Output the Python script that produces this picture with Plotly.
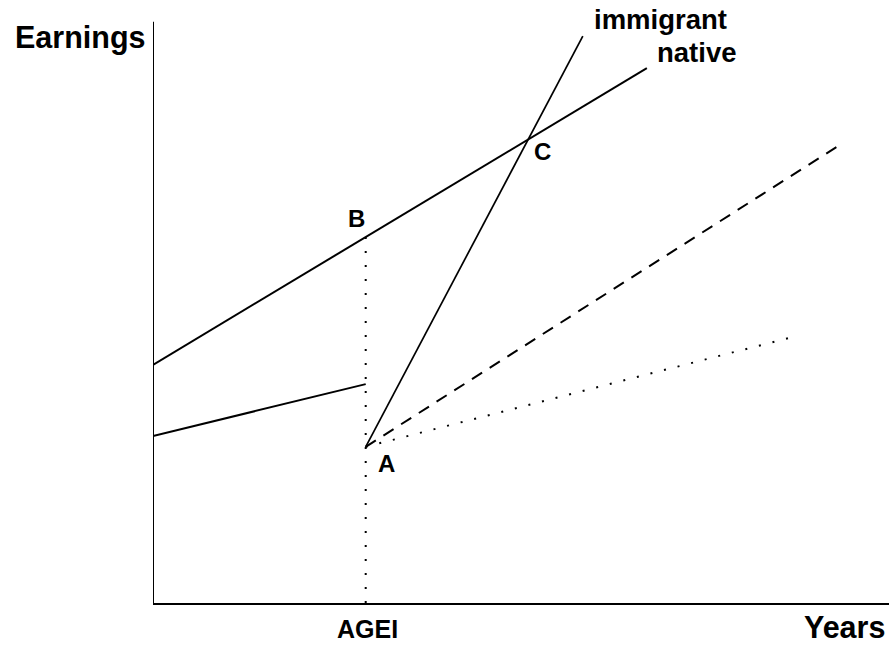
import plotly.graph_objects as go

# Data (arbitrary units: years on x, earnings on y)
agei = 28.9
native_x = [0, 67.1]
native_y = [39.5, 88.7]
pre_x = [0, agei]
pre_y = [27.7, 36.3]
immig_x = [agei, 58.4]
immig_y = [25.9, 94.0]
dash_x = [agei, 93.1]
dash_y = [25.9, 75.8]
dot_x = [agei, 87.5]
dot_y = [25.9, 44.3]
vert_x = [agei, agei]
vert_y = [0, 60.7]
yaxis_top = 96.4

BLACK = "#000000"
FONT = "Liberation Sans, Arial, Helvetica, sans-serif"
W, H = 890, 646
ML, MR, MT, MB = 153, 1, 0, 43

fig = go.Figure()

def line(x, y, dash="solid", width=2):
    fig.add_trace(go.Scatter(x=x, y=y, mode="lines",
                             line=dict(color=BLACK, width=width, dash=dash),
                             hoverinfo="skip", showlegend=False, cliponaxis=False))

# y axis line (stops short of the top)
line([0, 0], [0, yaxis_top], width=2)
line(native_x, native_y)
line(pre_x, pre_y)
line(immig_x, immig_y, width=1.7)
line(dash_x, dash_y, dash="12px,9px", width=2)
line(dot_x, dot_y, dash="2px,12px", width=2)
line(vert_x, vert_y, dash="2px,12px", width=2)

def label(text, x, y, size):
    fig.add_annotation(x=x, y=y, xref="x", yref="y", text="<b>%s</b>" % text,
                       showarrow=False, font=dict(family=FONT, size=size, color=BLACK),
                       xanchor="center", yanchor="middle")

def plabel(text, px, py, size):
    # label positioned in paper coordinates (outside the plotting area)
    pw, ph = W - ML - MR, H - MT - MB
    fig.add_annotation(x=(px - ML) / pw, y=(H - MB - py) / ph, xref="paper", yref="paper",
                       text="<b>%s</b>" % text, showarrow=False,
                       font=dict(family=FONT, size=size, color=BLACK),
                       xanchor="center", yanchor="middle")

plabel("Earnings", 80, 37.5, 30.5)
plabel("Years", 844, 626.5, 30.5)
plabel("AGEI", 367.5, 628.5, 25)
label("immigrant", 69.0, 96.8, 27.5)
label("native", 73.9, 91.3, 27.5)
label("A", 31.7, 23.2, 24)
label("B", 27.6, 63.8, 24)
label("C", 52.9, 74.9, 24)

fig.update_layout(
    width=W, height=H,
    margin=dict(l=ML, r=MR, t=MT, b=MB),
    plot_bgcolor="white", paper_bgcolor="white",
    xaxis=dict(range=[0, 100], showgrid=False, zeroline=False, showticklabels=False,
               ticks="", showline=True, linecolor=BLACK, linewidth=2),
    yaxis=dict(range=[0, 100], showgrid=False, zeroline=False, showticklabels=False,
               ticks="", showline=False),
)

fig.write_html("out.html", config={"displayModeBar": False},
               post_script="document.body.style.margin='0';document.body.style.overflow='hidden';")
